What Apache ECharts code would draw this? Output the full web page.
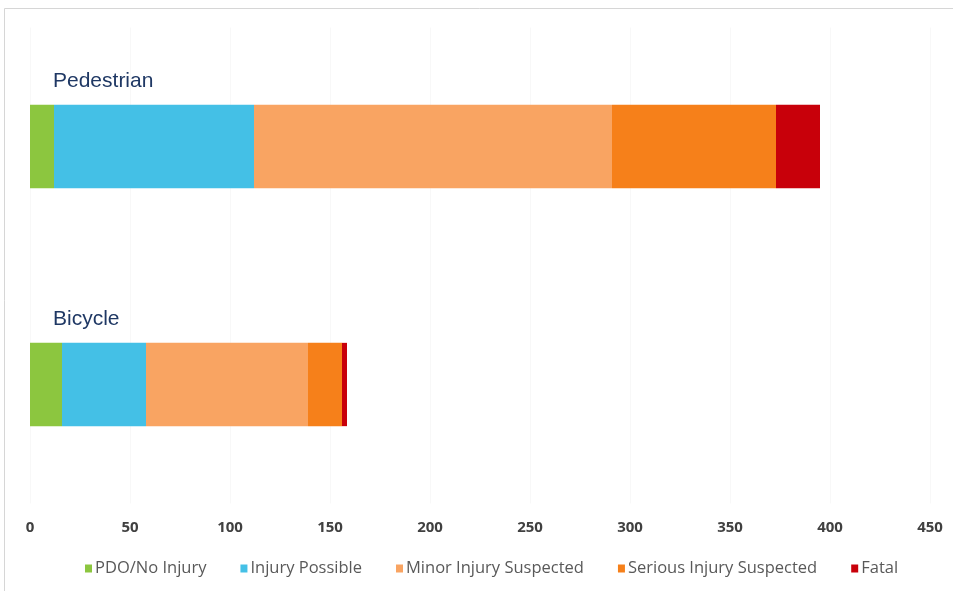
<!DOCTYPE html>
<html><head><meta charset="utf-8">
<script src="https://cdn.jsdelivr.net/npm/echarts@6/dist/echarts.min.js"></script>
<style>html,body{margin:0;padding:0;background:#fff}#c{width:953px;height:591px}</style>
</head><body><div id="c"></div>
<script>
const categories = ['Pedestrian', 'Bicycle'];
const seriesNames = ['PDO/No Injury', 'Injury Possible', 'Minor Injury Suspected', 'Serious Injury Suspected', 'Fatal'];
const pdo = [12, 16];
const injuryPossible = [100, 42];
const minorInjury = [179, 81];
const seriousInjury = [82, 17];
const fatal = [22, 2.5];
const xTicks = [0, 50, 100, 150, 200, 250, 300, 350, 400, 450];
const colors = ['#8cc63f', '#44c0e6', '#f9a462', '#f6801a', '#c8000a'];

const values = [pdo, injuryPossible, minorInjury, seriousInjury, fatal];
const chart = echarts.init(document.getElementById('c'));
chart.setOption({
  animation: false,
  graphic: [{type: 'rect', shape: {x: 4.5, y: 8.5, width: 960, height: 600}, style: {fill: 'none', stroke: '#d6d6d6', lineWidth: 1}, silent: true}],
  grid: {left: 30, right: 23, top: 27.5, bottom: 87.5},
  xAxis: {
    type: 'value', min: xTicks[0], max: xTicks[xTicks.length - 1], interval: 50,
    axisLine: {show: false}, axisTick: {show: false},
    splitLine: {show: true, lineStyle: {color: '#f8f8f8'}},
    axisLabel: {margin: 17, color: '#404040', fontWeight: 'bold', fontSize: 15, fontFamily: 'Open Sans'}
  },
  yAxis: {
    type: 'category', data: categories, inverse: true,
    axisLine: {show: false}, axisTick: {show: false}, axisLabel: {show: false}
  },
  legend: {
    bottom: 9, left: 80, itemWidth: 7, itemHeight: 8, itemGap: 34, icon: 'rect',
    textStyle: {color: '#595959', fontSize: 16.5, fontFamily: 'Open Sans', padding: [0, 0, 0, -2]},
    data: seriesNames
  },
  series: seriesNames.map((n, i) => ({
    name: n, type: 'bar', stack: 'all', barWidth: '35%',
    itemStyle: {color: colors[i]},
    data: values[i],
    label: i === 0 ? {
      show: true, formatter: '{b}', position: [23, -24], verticalAlign: 'middle', align: 'left',
      color: '#1f3864', fontSize: 21, fontFamily: 'Liberation Sans'
    } : {show: false}
  }))
});
</script></body></html>
